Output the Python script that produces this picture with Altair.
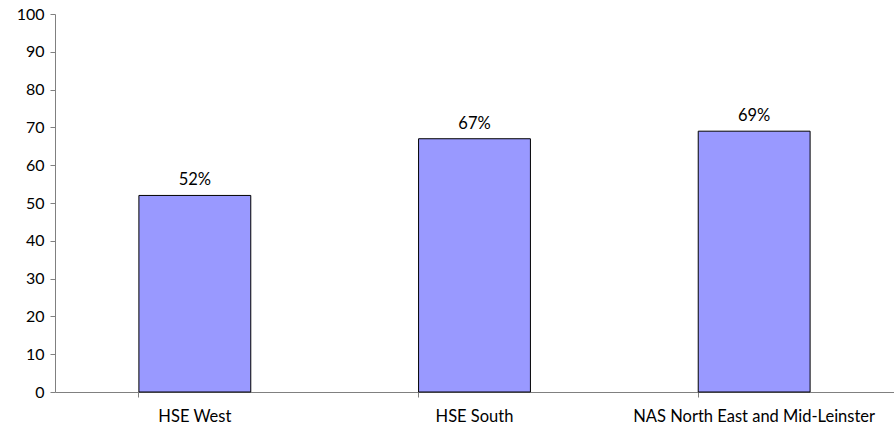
import altair as alt
import pandas as pd

categories = ["HSE West", "HSE South", "NAS North East and Mid-Leinster"]
values = [52, 67, 69]
labels = ["52%", "67%", "69%"]
y_ticks = [0, 10, 20, 30, 40, 50, 60, 70, 80, 90, 100]

df = pd.DataFrame({"cat": categories, "val": values, "lab": labels})

FONT = "Lato"

x = alt.X("cat:N", sort=categories, title=None,
          scale=alt.Scale(paddingInner=0.6, paddingOuter=0.3),
          axis=alt.Axis(labelAngle=0, labelFont=FONT, labelFontSize=16.5, labelColor="#000",
                        labelLimit=0, bandPosition=0, tickSize=5, tickColor="#808080",
                        domainColor="#808080", labelPadding=11, grid=False))
y = alt.Y("val:Q", title=None,
          scale=alt.Scale(domain=[0, 100], nice=False),
          axis=alt.Axis(values=y_ticks, tickCount=11, labelFont=FONT, labelFontSize=16,
                        labelColor="#000", labelOverlap=False, tickSize=5, tickColor="#808080",
                        domainColor="#808080", labelPadding=6, grid=False))

base = alt.Chart(df).encode(x=x, y=y)
bars = base.mark_bar(color="#9999FF", stroke="#000", strokeWidth=1)
text = base.mark_text(baseline="bottom", dy=-7, font=FONT, fontSize=16.5, color="#000").encode(text="lab:N")

chart = (bars + text).properties(
    width=839, height=378,
    autosize=alt.AutoSizeParams(type="none"),
    padding={"left": 55, "top": 14, "right": 0, "bottom": 46},
).configure(background="white").configure_view(stroke=None)

chart.save("out.html", embed_options={"renderer": "svg", "actions": False})
